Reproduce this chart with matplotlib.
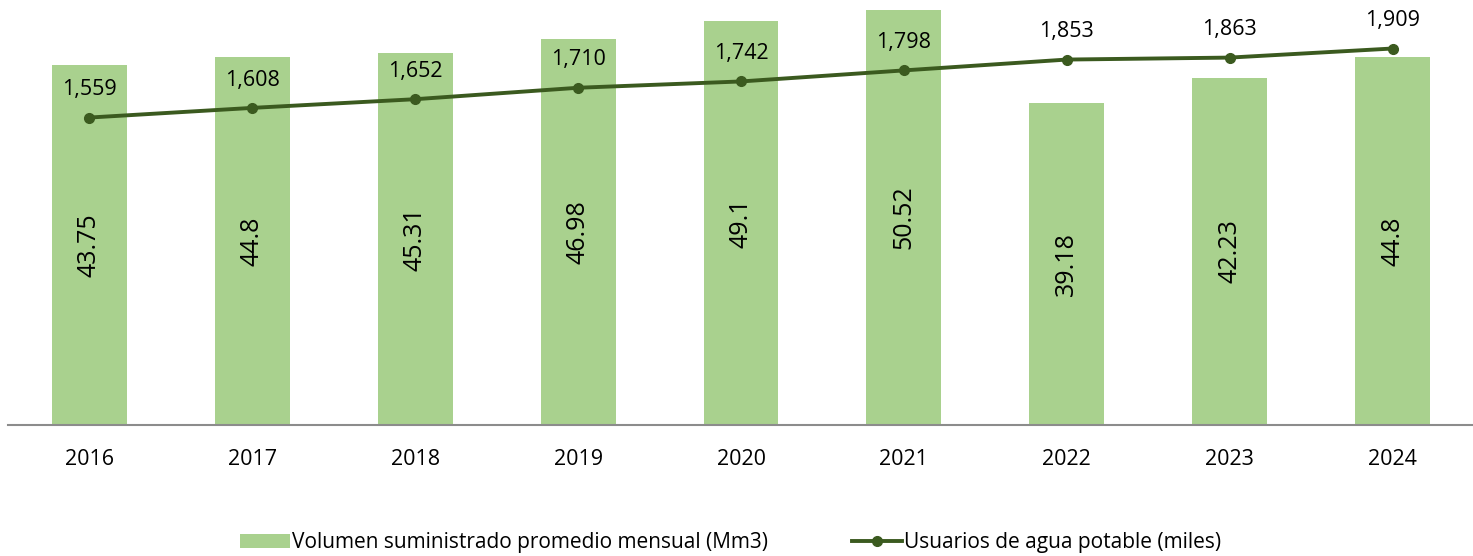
import matplotlib.pyplot as plt
import numpy as np

plt.rcParams['font.family'] = ['Open Sans', 'DejaVu Sans']

# Yearly values
years = ["2016", "2017", "2018", "2019", "2020", "2021", "2022", "2023", "2024"]
volumen = [43.75, 44.8, 45.31, 46.98, 49.1, 50.52, 39.18, 42.23, 44.8]
usuarios = [1559, 1608, 1652, 1710, 1742, 1798, 1853, 1863, 1909]

bar_color = "#a9d18e"
line_color = "#3b5a1f"

x = np.arange(len(years))

fig = plt.figure(figsize=(14.73, 5.56), dpi=100)
ax = fig.add_axes([8 / 1473, 131 / 556, 1466 / 1473, 425 / 556])

bars = ax.bar(x, volumen, width=0.46, color=bar_color,
              label="Volumen suministrado promedio mensual (Mm3)")
ax.set_ylim(0, 51.7)
ax.set_xlim(-0.5, len(years) - 0.5)

# value labels inside the bars, rotated
for xi, v in zip(x, volumen):
    ax.text(xi, v / 2, f"{v:g}", rotation=90, ha="center", va="center",
            fontsize=18, color="black")

ax2 = ax.twinx()
line, = ax2.plot(x, usuarios, color=line_color, linewidth=2.8, marker="o",
                 markersize=7, label="Usuarios de agua potable (miles)")
ax2.set_ylim(0, 2155)

for xi, v in zip(x, usuarios):
    ax2.annotate(f"{v:,}", (xi, v), xytext=(0, 20), textcoords="offset points",
                 ha="center", va="center", fontsize=15.5, color="black")

for a in (ax, ax2):
    for side in ("top", "right", "left"):
        a.spines[side].set_visible(False)
    a.set_yticks([])
ax.spines["bottom"].set_color("#8c8c8c")
ax.spines["bottom"].set_linewidth(1.5)
ax2.spines["bottom"].set_visible(False)

ax.set_xticks(x, years, fontsize=15.5)
ax.tick_params(axis="x", length=0, pad=17)

fig.legend([bars, line], [bars.get_label(), line.get_label()],
           loc="center", bbox_to_anchor=(0.496, 0.024), ncol=2, frameon=False,
           fontsize=15, handlelength=2.4, handletextpad=0.1, columnspacing=4.0)

fig.savefig("out.png", dpi=100)
